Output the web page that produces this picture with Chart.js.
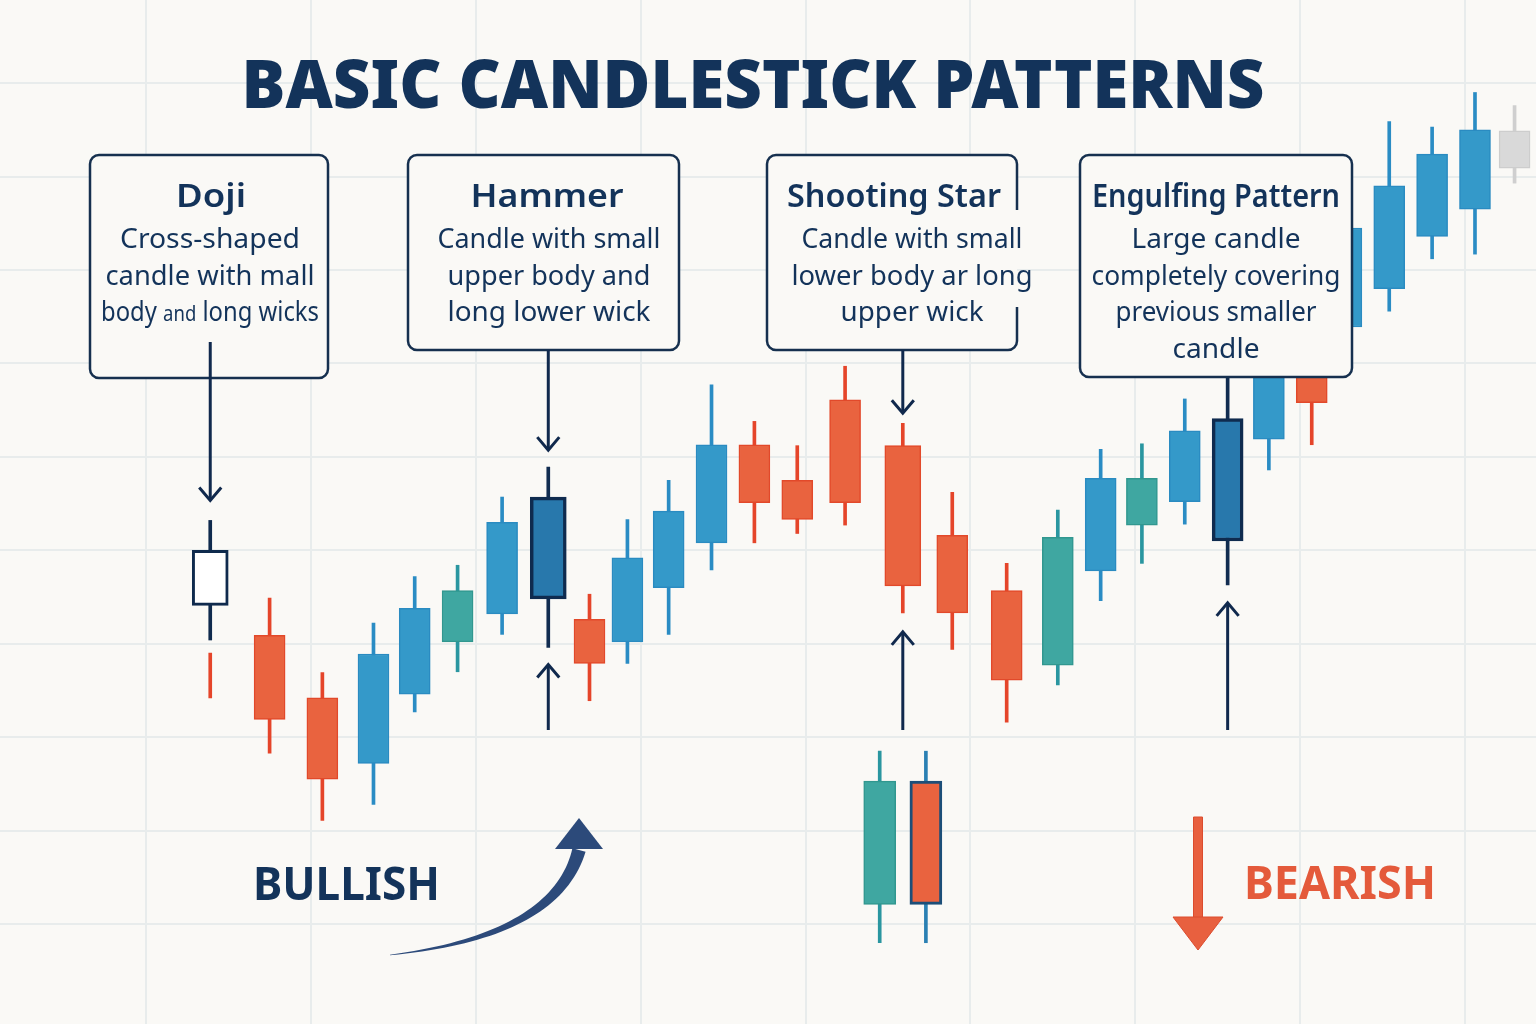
<!DOCTYPE html>
<html>
<head>
<meta charset="utf-8">
<title>Basic Candlestick Patterns</title>
<script src="https://cdn.jsdelivr.net/npm/chart.js@4.4.1/dist/chart.umd.min.js"></script>
<style>
  html, body { margin: 0; padding: 0; background: #faf9f6; overflow: hidden; }
  #wrap { width: 1536px; height: 1024px; }
</style>
</head>
<body>
<div id="wrap"><canvas id="chart" width="1536" height="1024"></canvas></div>
<script>
// candle positions (in grid-column units) and OHLC prices
var candleX = [0.39, 0.75, 1.07, 1.38, 1.63, 1.89, 2.16, 2.44, 2.69, 2.92,
               3.17, 3.43, 3.69, 3.95, 4.24, 4.59, 4.89, 5.22, 5.53, 5.79,
               6.04, 6.30, 6.56, 6.81, 7.07, 7.28, 7.54, 7.80, 8.06, 8.30];
var openP  = [134.1, 130.9, 124.2, 117.2, 124.6, 130.2, 133.2, 134.8, 132.6, 130.2,
              136.0, 140.8, 151.3, 147.5, 156.1, 151.2, 141.6, 135.7, 127.7, 137.8,
              142.7, 145.2, 141.0, 151.9, 159.3, 163.9, 168.0, 173.6, 176.5, 180.9];
var highP  = [143.2, 134.9, 126.9, 132.2, 137.2, 138.4, 145.7, 148.9, 135.3, 143.3,
              147.5, 157.7, 153.8, 151.2, 159.7, 153.6, 146.2, 138.6, 144.3, 150.8,
              151.4, 156.2, 160.0, 161.2, 160.3, 177.5, 185.9, 185.3, 189.0, 187.6];
var lowP   = [130.4, 118.3, 111.1, 112.8, 122.7, 127.0, 131.0, 129.6, 123.9, 127.9,
              131.0, 137.9, 140.8, 141.8, 142.7, 133.3, 129.4, 121.6, 125.6, 134.6,
              138.6, 142.8, 136.3, 148.6, 151.3, 162.0, 165.6, 171.2, 171.7, 179.3];
var closeP = [140.0, 121.9, 115.5, 128.9, 133.8, 135.7, 143.0, 145.7, 127.9, 139.2,
              144.2, 151.3, 145.1, 143.3, 145.1, 136.2, 133.3, 126.1, 141.4, 147.7,
              147.7, 152.8, 154.1, 159.8, 155.8, 174.5, 179.0, 182.4, 185.0, 184.9];
var candleKind = ['doji', 'down', 'down', 'up', 'up', 'teal', 'up', 'key', 'down', 'up',
                  'up', 'up', 'down', 'down', 'down', 'down', 'down', 'down', 'teal', 'up',
                  'teal', 'up', 'key', 'up', 'down', 'up', 'up', 'up', 'up', 'flat'];

// broken tail under the doji
var dojiTail = [124.2, 129.0];

// the separate pair at the bottom
var pairX = [4.45, 4.73];
var pairOpen = [102.1, 115.3];
var pairClose = [115.3, 102.1];
var pairHigh = [118.5, 118.5];
var pairLow = [98.0, 98.0];
var pairKind = ['teal', 'downEdged'];

// which candle each callout points at
var PATTERN = { doji: 0, hammer: 7, shootingStar: 15, engulfing: 22 };
var wideBodies = [PATTERN.doji, PATTERN.hammer, PATTERN.shootingStar];

var palette = {
  up:        { fill: '#3499c9', edge: '#2a8bc1', wick: '#2a8cc4', bw: 1.5 },
  down:      { fill: '#e9633f', edge: '#e2492a', wick: '#e5452a', bw: 1.5 },
  teal:      { fill: '#3fa7a1', edge: '#31978f', wick: '#2a96a0', bw: 1.5 },
  key:       { fill: '#2878ac', edge: '#0f2b4f', wick: '#112c50', bw: 3.5 },
  doji:      { fill: '#ffffff', edge: '#0f2a4d', wick: '#0f2a4d', bw: 3 },
  flat:      { fill: '#d9d9d9', edge: '#cdcdcd', wick: '#cfcfcf', bw: 1.5 },
  downEdged: { fill: '#e9633f', edge: '#1c4e78', wick: '#2a80b3', bw: 3 }
};

var NAVY = '#13335a';
var LINE = '#10294d';
var BG = '#faf9f6';

function idx(n) { var a = []; for (var i = 0; i < n; i++) a.push(i); return a; }
var regular = idx(candleX.length).filter(function(i) { return wideBodies.indexOf(i) < 0; });

function bodyData(list) { return list.map(function(i) { return { x: candleX[i], y: [openP[i], closeP[i]] }; }); }
function kindOf(list, key) { return list.map(function(i) { return palette[candleKind[i]][key]; }); }

var datasets = [
  {
    label: 'bodies', order: 0, grouped: false, barThickness: 31, borderSkipped: false,
    data: bodyData(regular),
    backgroundColor: kindOf(regular, 'fill'), borderColor: kindOf(regular, 'edge'), borderWidth: kindOf(regular, 'bw')
  },
  {
    label: 'pattern bodies', order: 0, grouped: false, barThickness: 36, borderSkipped: false,
    data: bodyData(wideBodies),
    backgroundColor: kindOf(wideBodies, 'fill'), borderColor: kindOf(wideBodies, 'edge'), borderWidth: kindOf(wideBodies, 'bw')
  },
  {
    label: 'pair bodies', order: 0, grouped: false, barThickness: 32, borderSkipped: false,
    data: pairX.map(function(x, i) { return { x: x, y: [pairOpen[i], pairClose[i]] }; }),
    backgroundColor: pairKind.map(function(k) { return palette[k].fill; }),
    borderColor: pairKind.map(function(k) { return palette[k].edge; }),
    borderWidth: pairKind.map(function(k) { return palette[k].bw; })
  },
  {
    label: 'wicks', order: 1, grouped: false, barThickness: 3, borderWidth: 0,
    data: candleX.map(function(x, i) { return { x: x, y: [lowP[i], highP[i]] }; }),
    backgroundColor: candleKind.map(function(k) { return palette[k].wick; })
  },
  {
    label: 'doji tail', order: 1, grouped: false, barThickness: 3, borderWidth: 0,
    data: [{ x: candleX[PATTERN.doji], y: dojiTail }],
    backgroundColor: palette.down.wick
  },
  {
    label: 'pair wicks', order: 1, grouped: false, barThickness: 3, borderWidth: 0,
    data: pairX.map(function(x, i) { return { x: x, y: [pairLow[i], pairHigh[i]] }; }),
    backgroundColor: pairKind.map(function(k) { return palette[k].wick; })
  }
];

var callouts = [
  { box: [90, 155, 238, 223], gap: null, title: 'Doji', titleX: 211, titleW: 70,
    textX: 210, lines: ['Cross-shaped', 'candle with mall', 'body and long wicks'], widths: [180, 209, 218] },
  { box: [408, 155, 271, 195], gap: null, title: 'Hammer', titleX: 547, titleW: 153,
    textX: 549, lines: ['Candle with small', 'upper body and', 'long lower wick'], widths: [223, 203, 203] },
  { box: [767, 155, 250, 195], gap: [210, 307], title: 'Shooting Star', titleX: 894, titleW: 214,
    textX: 912, lines: ['Candle with small', 'lower body ar long', 'upper wick'], widths: [221, 241, 143] },
  { box: [1080, 155, 272, 222], gap: null, title: 'Engulfing Pattern', titleX: 1216, titleW: 248,
    textX: 1216, lines: ['Large candle', 'completely covering', 'previous smaller', 'candle'], widths: [169, 249, 201, 87] }
];

function fitText(ctx, s, x, y, font, color, width, align) {
  ctx.font = font;
  ctx.fillStyle = color;
  ctx.textBaseline = 'alphabetic';
  ctx.textAlign = 'left';
  var w = ctx.measureText(s).width;
  var k = width ? width / w : 1;
  var left = align === 'left' ? x : x - w * k / 2;
  ctx.save();
  ctx.translate(left, y);
  ctx.scale(k, 1);
  ctx.fillText(s, 0, 0);
  ctx.restore();
}

function roundBox(ctx, x, y, w, h, r, gap) {
  ctx.beginPath();
  ctx.roundRect(x, y, w, h, r);
  ctx.fillStyle = BG;
  ctx.fill();
  ctx.beginPath();
  if (gap) {
    ctx.moveTo(x + w, gap[1]);
    ctx.lineTo(x + w, y + h - r);
    ctx.arcTo(x + w, y + h, x + w - r, y + h, r);
    ctx.lineTo(x + r, y + h);
    ctx.arcTo(x, y + h, x, y + h - r, r);
    ctx.lineTo(x, y + r);
    ctx.arcTo(x, y, x + r, y, r);
    ctx.lineTo(x + w - r, y);
    ctx.arcTo(x + w, y, x + w, y + r, r);
    ctx.lineTo(x + w, gap[0]);
  } else {
    ctx.roundRect(x, y, w, h, r);
  }
  ctx.strokeStyle = '#16304f';
  ctx.lineWidth = 2.5;
  ctx.stroke();
}

function arrow(ctx, x, y0, tip) {
  var dir = tip > y0 ? 1 : -1;
  ctx.strokeStyle = LINE;
  ctx.lineWidth = 3;
  ctx.lineCap = 'butt';
  ctx.lineJoin = 'miter';
  ctx.beginPath();
  ctx.moveTo(x, y0);
  ctx.lineTo(x, tip - dir * 1.5);
  ctx.stroke();
  ctx.beginPath();
  ctx.moveTo(x - 11, tip - dir * 13);
  ctx.lineTo(x, tip);
  ctx.lineTo(x + 11, tip - dir * 13);
  ctx.stroke();
}

function curvedArrow(ctx) {
  var p0 = [390, 955], c = [556, 936], p2 = [579, 850];
  var left = [], right = [];
  for (var s = 0; s <= 40; s++) {
    var t = s / 40, u = 1 - t;
    var px = u * u * p0[0] + 2 * u * t * c[0] + t * t * p2[0];
    var py = u * u * p0[1] + 2 * u * t * c[1] + t * t * p2[1];
    var dx = 2 * u * (c[0] - p0[0]) + 2 * t * (p2[0] - c[0]);
    var dy = 2 * u * (c[1] - p0[1]) + 2 * t * (p2[1] - c[1]);
    var len = Math.hypot(dx, dy);
    var nx = -dy / len, ny = dx / len;
    var hw = (0.6 + 13 * Math.pow(t, 1.0)) / 2;
    left.push([px + nx * hw, py + ny * hw]);
    right.push([px - nx * hw, py - ny * hw]);
  }
  ctx.fillStyle = '#2c4a7a';
  ctx.beginPath();
  ctx.moveTo(left[0][0], left[0][1]);
  left.forEach(function(p) { ctx.lineTo(p[0], p[1]); });
  right.reverse().forEach(function(p) { ctx.lineTo(p[0], p[1]); });
  ctx.closePath();
  ctx.fill();
  ctx.beginPath();
  ctx.moveTo(555, 849);
  ctx.lineTo(603, 849);
  ctx.lineTo(579, 818);
  ctx.closePath();
  ctx.fill();
}

function bearArrow(ctx) {
  ctx.fillStyle = '#e8603f';
  ctx.strokeStyle = '#dc4c2e';
  ctx.lineWidth = 1;
  ctx.beginPath();
  ctx.rect(1193.5, 817, 9, 101);
  ctx.fill();
  ctx.stroke();
  ctx.beginPath();
  ctx.moveTo(1173, 917);
  ctx.lineTo(1223, 917);
  ctx.lineTo(1198, 950);
  ctx.closePath();
  ctx.fill();
  ctx.stroke();
}

var annotations = {
  id: 'annotations',
  beforeDraw: function(chart) {
    var ctx = chart.ctx;
    ctx.save();
    ctx.fillStyle = BG;
    ctx.fillRect(0, 0, chart.width, chart.height);
    ctx.restore();
  },
  afterDatasetsDraw: function(chart) {
    var ctx = chart.ctx;
    var xs = chart.scales.x, ys = chart.scales.y;
    ctx.save();

    fitText(ctx, 'BASIC CANDLESTICK PATTERNS', 753, 108, '900 68px "Noto Sans"', NAVY, 1023);

    callouts.forEach(function(c) {
      roundBox(ctx, c.box[0], c.box[1], c.box[2], c.box[3], 9, c.gap);
      fitText(ctx, c.title, c.titleX, 207, '600 33px "Noto Sans"', NAVY, c.titleW);
      c.lines.forEach(function(line, i) {
        var y = 248 + i * 36.7;
        if (line === 'body and long wicks') {
          // "and" is set smaller in the original
          var parts = [['body ', 27], ['and', 21], [' long wicks', 27]];
          var total = 0;
          parts.forEach(function(p) { ctx.font = p[1] + 'px "Noto Sans"'; total += ctx.measureText(p[0]).width; });
          var k = c.widths[i] / total, x = c.textX - c.widths[i] / 2;
          parts.forEach(function(p) {
            ctx.font = p[1] + 'px "Noto Sans"';
            var w = ctx.measureText(p[0]).width * k;
            fitText(ctx, p[0], x, y, p[1] + 'px "Noto Sans"', NAVY, w, 'left');
            x += w;
          });
        } else {
          fitText(ctx, line, c.textX, y, '27px "Noto Sans"', NAVY, c.widths[i]);
        }
      });
    });

    // arrows pointing at the pattern candles
    var dx = xs.getPixelForValue(candleX[PATTERN.doji]);
    var hx = xs.getPixelForValue(candleX[PATTERN.hammer]);
    var sx = xs.getPixelForValue(candleX[PATTERN.shootingStar]);
    var ex = xs.getPixelForValue(candleX[PATTERN.engulfing]);
    arrow(ctx, dx, 342, ys.getPixelForValue(highP[PATTERN.doji]) - 20);
    arrow(ctx, hx, 350, ys.getPixelForValue(highP[PATTERN.hammer]) - 17);
    arrow(ctx, sx, 350, ys.getPixelForValue(highP[PATTERN.shootingStar]) - 10);
    arrow(ctx, hx, 730, ys.getPixelForValue(lowP[PATTERN.hammer]) + 17);
    arrow(ctx, sx, 730, ys.getPixelForValue(lowP[PATTERN.shootingStar]) + 19);
    arrow(ctx, ex, 730, ys.getPixelForValue(lowP[PATTERN.engulfing]) + 18);

    fitText(ctx, 'BULLISH', 253, 900, 'bold 47px "Noto Sans"', NAVY, 187, 'left');
    curvedArrow(ctx);
    fitText(ctx, 'BEARISH', 1244, 899, 'bold 46px "Noto Sans"', '#e45a3b', 192, 'left');
    bearArrow(ctx);

    ctx.restore();
  }
};

function onStep(step) {
  return function(c) {
    var v = c.tick ? c.tick.value / step : 0.5;
    return Math.abs(v - Math.round(v)) < 1e-6 ? '#e8ecec' : 'rgba(0,0,0,0)';
  };
}

new Chart(document.getElementById('chart'), {
  type: 'bar',
  data: { datasets: datasets },
  options: {
    responsive: false,
    devicePixelRatio: 1,
    animation: false,
    events: [],
    layout: { padding: 0 },
    plugins: { legend: { display: false }, tooltip: { enabled: false }, title: { display: false } },
    scales: {
      x: {
        type: 'linear', min: -0.885, max: 8.43, offset: false,
        ticks: { display: false, stepSize: 1 },
        grid: { color: onStep(1), lineWidth: 2, drawTicks: false, offset: false },
        border: { display: false }
      },
      y: {
        type: 'linear', min: 89.3, max: 198.9, beginAtZero: false,
        ticks: { display: false, stepSize: 10 },
        grid: { color: onStep(10), lineWidth: 2, drawTicks: false },
        border: { display: false }
      }
    }
  },
  plugins: [annotations]
});
</script>
</body>
</html>
